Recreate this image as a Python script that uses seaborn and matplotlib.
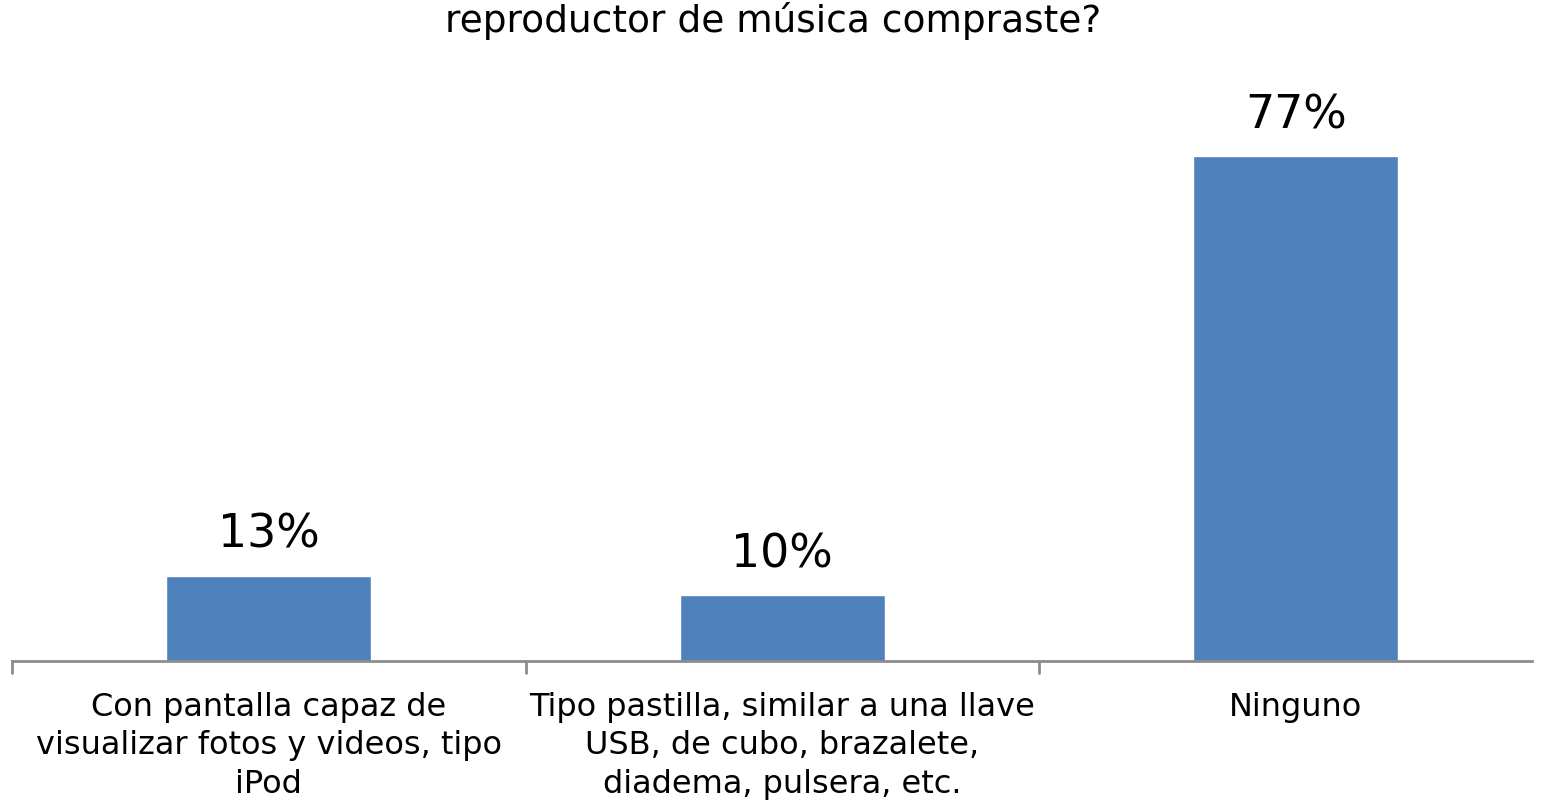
import matplotlib
matplotlib.use("Agg")
import matplotlib.pyplot as plt
import seaborn as sns
import pandas as pd

categories = [
    "Con pantalla capaz de\nvisualizar fotos y videos, tipo\niPod",
    "Tipo pastilla, similar a una llave\nUSB, de cubo, brazalete,\ndiadema, pulsera, etc.",
    "Ninguno",
]
values = [13, 10, 77]
value_labels = ["13%", "10%", "77%"]
title_text = "reproductor de música compraste?"

sns.set_theme(style="white")
plt.rcParams['font.family'] = ['DejaVu Sans']

df = pd.DataFrame({"cat": categories, "val": values})

fig = plt.figure(figsize=(15.47, 8.01), dpi=100)
W, H = 1547, 801
ax = fig.add_axes([12 / W, 1 - 661 / H, (1532 - 12) / W, (661 - 80) / H])

sns.barplot(data=df, x="cat", y="val", color="#4f81bd", width=0.4, ax=ax,
            saturation=1)
ax.set_ylim(0, 88.6)
ax.set_xlim(-0.5, 2.46)
ax.set_xlabel("")
ax.set_ylabel("")
ax.set_yticks([])

for i, (v, lab) in enumerate(zip(values, value_labels)):
    ax.annotate(lab, (i, v), xytext=(0, 18), textcoords="offset pixels",
                ha="center", va="bottom", fontsize=33, color="black")

for s in ["top", "right", "left"]:
    ax.spines[s].set_visible(False)
ax.spines["bottom"].set_color("#8c8c8c")
ax.spines["bottom"].set_linewidth(2)

ax.set_xticks([0, 1, 2])
ax.set_xticklabels(categories, fontsize=23, color="black", linespacing=1.32)
ax.tick_params(axis="x", length=0, pad=22)
for xb in [-0.5, 0.5, 1.5]:
    ax.plot([xb, xb], [0, -1.8], color="#8c8c8c", lw=2, clip_on=False)

fig.text(0.5, 1 - 2 / H, title_text, ha="center", va="top",
         fontsize=27, color="black")

fig.savefig("out.png", dpi=100, facecolor="white")
